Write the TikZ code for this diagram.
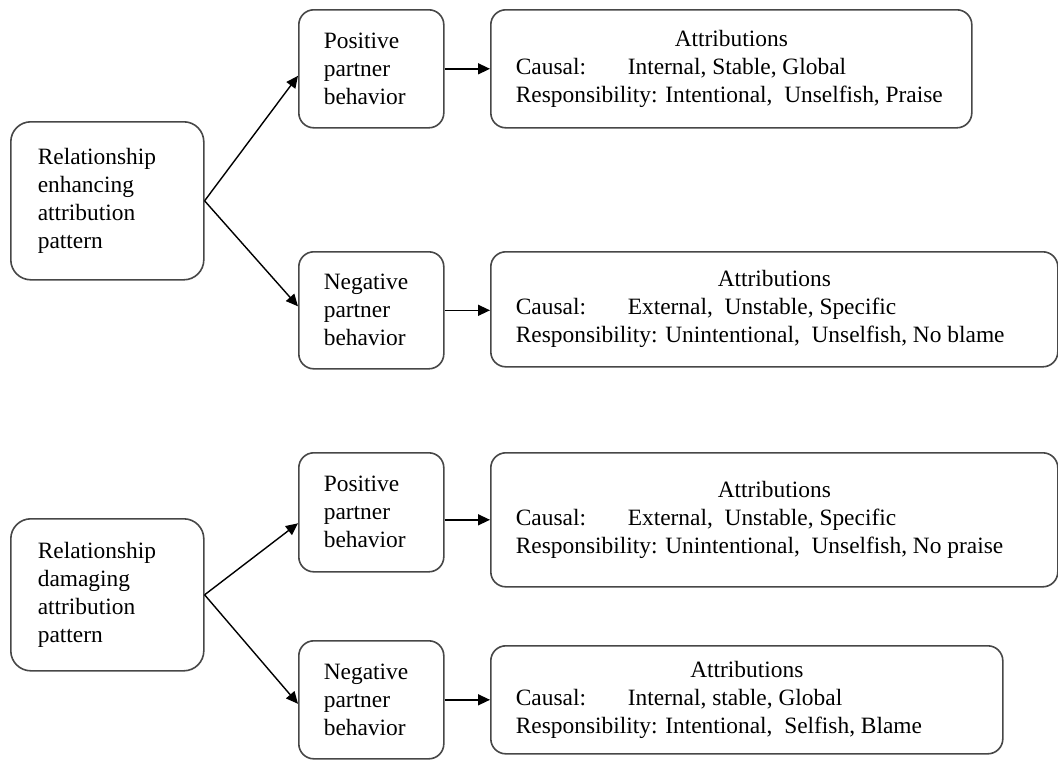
\documentclass[tikz,border=0pt]{standalone}
\usepackage{fontspec}
\setmainfont{Liberation Serif}
\usetikzlibrary{arrows.meta}

\newcommand{\attrhead}[1]{\makebox[#1]{Attributions}}

\begin{document}
\begin{tikzpicture}[x=0.5pt,y=0.5pt,
    font=\fontsize{11.7}{14}\selectfont,
    box/.style={draw=black!72, line width=0.8pt, rounded corners=7.5pt,
        anchor=north west, align=left, inner ysep=0pt},
    leftbox/.style={box, rounded corners=10pt, inner xsep=13.5pt,
        text width=69.5pt, minimum height=#1},
    actbox/.style={box, inner xsep=12.5pt, text width=47.5pt, minimum height=#1},
    attrbox/.style={box, inner xsep=12.5pt, minimum width=#1},
    arr/.style={-{Triangle[length=6pt,width=5.5pt]}, line width=0.7pt}]
    \useasboundingbox (0,0) rectangle (1058,-761);

    % enhancing pattern
    \node[leftbox=79pt] (leftA) at (10,-121) {Relationship\\enhancing\\attribution\\pattern};
    \node[actbox=59pt] (posA) at (298,-9) {Positive\\partner\\behavior};
    \node[actbox=58.5pt] (negA) at (298,-251) {Negative\\partner\\behavior};
    \node[attrbox=240.5pt, minimum height=59pt] (attrA) at (490,-9)
        {\attrhead{215.5pt}\\
         \makebox[56pt][l]{Causal:}Internal, Stable, Global\\
         Responsibility: Intentional,~ Unselfish, Praise};
    \node[attrbox=283.5pt, minimum height=57.5pt] (attrB) at (490,-251)
        {\attrhead{258.5pt}\\
         \makebox[56pt][l]{Causal:}External,~ Unstable, Specific\\
         Responsibility: Unintentional,~ Unselfish, No blame};

    % damaging pattern
    \node[leftbox=76pt] (leftB) at (10,-518) {Relationship\\damaging\\attribution\\pattern};
    \node[actbox=59.5pt] (posB) at (298,-452) {Positive\\partner\\behavior};
    \node[actbox=59pt] (negB) at (298,-640) {Negative\\partner\\behavior};
    \node[attrbox=283.5pt, minimum height=67pt] (attrC) at (490,-452)
        {\attrhead{258.5pt}\\
         \makebox[56pt][l]{Causal:}External,~ Unstable, Specific\\
         Responsibility: Unintentional,~ Unselfish, No praise};
    \node[attrbox=256pt, minimum height=54pt] (attrD) at (490,-645)
        {\attrhead{231pt}\\
         \makebox[56pt][l]{Causal:}Internal, stable, Global\\
         Responsibility: Intentional,~ Selfish, Blame};

    \draw[arr] (leftA.east) -- ([yshift=-3.5pt]posA.west);
    \draw[arr] (leftA.east) -- ([yshift=2pt]negA.west);
    \draw[arr] (leftB.east) -- ([yshift=-5.5pt]posB.west);
    \draw[arr] (leftB.east) -- ([yshift=-2pt]negB.west);

    \draw[arr] (posA.east) -- (posA.east -| attrA.west);
    \draw[arr] (negA.east) -- (negA.east -| attrB.west);
    \draw[arr] (attrC.west -| posB.east) -- (attrC.west);
    \draw[arr] (negB.east) -- (negB.east -| attrD.west);
\end{tikzpicture}
\end{document}
